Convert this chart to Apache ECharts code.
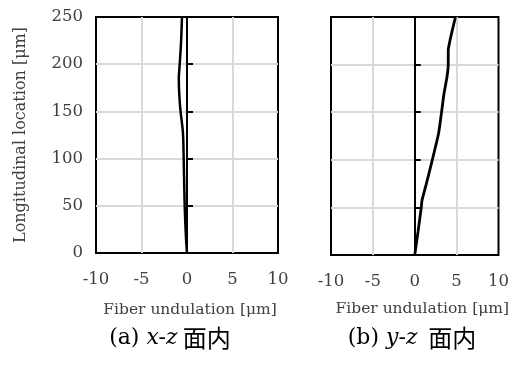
<!DOCTYPE html>
<html>
<head>
<meta charset="utf-8">
<script src="https://cdn.jsdelivr.net/npm/echarts@6/dist/echarts.min.js"></script>
<style>
  html, body { margin: 0; padding: 0; background: #fff; }
  #chart { width: 512px; height: 368px; }
</style>
</head>
<body>
<div id="chart"></div>
<script>
// (a) x-z plane
const xzDepth = [0, 14, 49, 98, 128, 151, 170, 185, 200, 222, 250];
const xzUndulation = [0, -0.1, -0.25, -0.36, -0.45, -0.72, -0.86, -0.9, -0.8, -0.66, -0.55];
// (b) y-z plane
const yzDepth = [0, 25, 50, 57, 76, 100, 128, 150, 170, 187, 200, 215, 231, 250];
const yzUndulation = [0, 0.4, 0.78, 0.86, 1.42, 2.1, 2.85, 3.2, 3.5, 3.85, 4.0, 4.0, 4.35, 4.86];

const xTicks = { min: -10, max: 10, interval: 5 };
const yTicks = { min: 0, max: 250, interval: 50 };
const xTitle = 'Fiber undulation [μm]';
const yTitle = 'Longitudinal location [μm]';
const captions = ['{n|(a) }{i|x-z}{c| 面内}', '{n|(b) }{i|y-z}{c|  面内}'];

const serif = '"DejaVu Serif", "Liberation Serif", serif';
const labelColor = '#404040';

const chart = echarts.init(document.getElementById('chart'));

function toPairs(xs, ys) {
    return xs.map((x, i) => [x, ys[i]]);
}

function xAxisFor(gridIndex, gap, padLeft) {
    return {
        type: 'value', gridIndex, ...xTicks,
        axisLine: { show: false, onZero: false },
        axisTick: { show: false },
        axisLabel: { color: labelColor, fontFamily: serif, fontSize: 16.5, margin: 18 },
        splitLine: { show: true, showMinLine: false, showMaxLine: false, lineStyle: { color: '#d9d9d9', width: 2 } },
        name: xTitle, nameLocation: 'middle', nameGap: gap,
        nameTextStyle: { color: labelColor, fontFamily: serif, fontSize: 15.5, padding: [0, 0, 0, padLeft] }
    };
}

function mainYAxis(gridIndex, showLabels) {
    return {
        type: 'value', gridIndex, ...yTicks,
        axisLine: { show: false, onZero: false },
        axisTick: { show: false },
        axisLabel: { show: showLabels, color: labelColor, fontFamily: serif, fontSize: 16.5, margin: 13 },
        splitLine: { show: true, showMinLine: false, showMaxLine: false, lineStyle: { color: '#d9d9d9', width: 2 } },
        name: showLabels ? yTitle : '', nameLocation: 'middle', nameGap: 67, nameRotate: 90,
        nameTextStyle: { color: labelColor, fontFamily: serif, fontSize: 16 }
    };
}

// axis drawn through x = 0 with short ticks pointing right
function zeroYAxis(gridIndex) {
    return {
        type: 'value', gridIndex, position: 'left', ...yTicks,
        axisLine: { show: true, onZero: true, lineStyle: { color: '#000', width: 2 } },
        axisTick: { show: true, inside: true, length: 6, lineStyle: { color: '#000', width: 2 } },
        axisLabel: { show: false },
        splitLine: { show: false }
    };
}

const captionRich = {
    n: { fontFamily: serif, fontSize: 22, fill: '#000' },
    i: { fontFamily: serif, fontSize: 22, fontStyle: 'italic', fill: '#000' },
    c: { fontFamily: '"Noto Sans CJK JP", sans-serif', fontSize: 24, fill: '#000' }
};

chart.setOption({
    animation: false,
    grid: [
        { left: 96, top: 17, width: 182, height: 236, show: true, borderColor: '#000', borderWidth: 2, backgroundColor: 'transparent' },
        { left: 331, top: 17, width: 170, height: 238, show: true, borderColor: '#000', borderWidth: 2, backgroundColor: 'transparent' }
    ],
    xAxis: [xAxisFor(0, 49, 6), xAxisFor(1, 46, 15)],
    yAxis: [mainYAxis(0, true), zeroYAxis(0), mainYAxis(1, false), zeroYAxis(1)],
    series: [
        {
            type: 'line', xAxisIndex: 0, yAxisIndex: 0, smooth: 0.3, showSymbol: false,
            lineStyle: { color: '#000', width: 2.5 },
            data: toPairs(xzUndulation, xzDepth)
        },
        {
            type: 'line', xAxisIndex: 1, yAxisIndex: 2, smooth: 0.15, showSymbol: false,
            lineStyle: { color: '#000', width: 2.8 },
            data: toPairs(yzUndulation, yzDepth)
        }
    ],
    graphic: [
        { type: 'text', x: 170, y: 338, style: { text: captions[0], align: 'center', verticalAlign: 'middle', rich: captionRich } },
        { type: 'text', x: 412, y: 338, style: { text: captions[1], align: 'center', verticalAlign: 'middle', rich: captionRich } }
    ]
});
</script>
</body>
</html>
